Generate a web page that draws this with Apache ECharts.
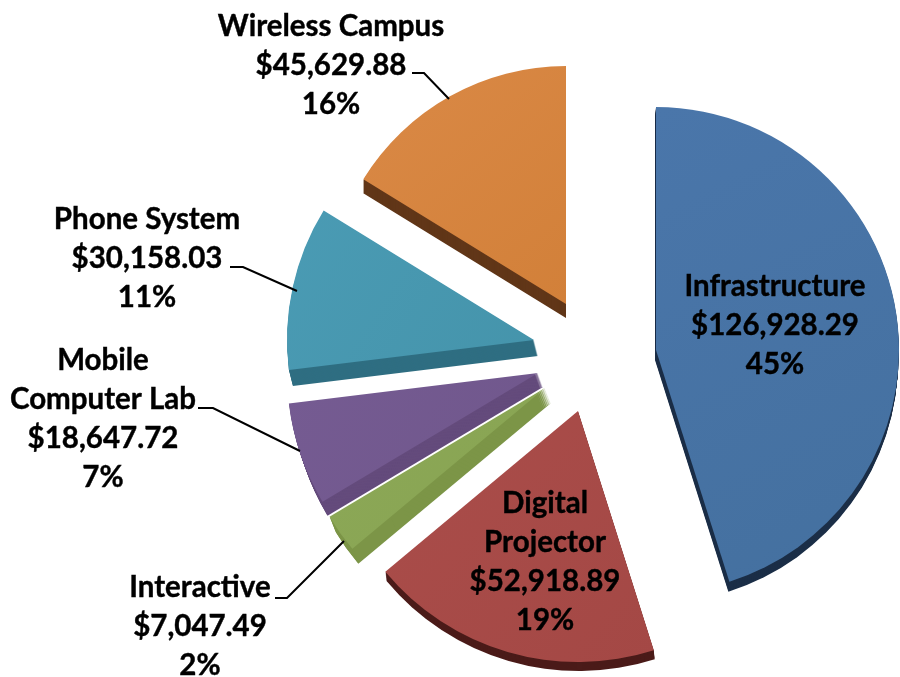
<!DOCTYPE html>
<html>
<head>
<meta charset="utf-8">
<title>Project budget</title>
<script src="https://cdn.jsdelivr.net/npm/echarts@6/dist/echarts.min.js"></script>
<style>
html, body { margin: 0; padding: 0; background: #fff; }
#chart { width: 900px; height: 677px; }
</style>
</head>
<body>
<div id="chart"></div>
<script>
// data
var categories = ['Infrastructure', 'Digital\nProjector', 'Interactive', 'Mobile\nComputer Lab', 'Phone System', 'Wireless Campus'];
var amounts = [126928.29, 52918.89, 7047.49, 18647.72, 30158.03, 45629.88];

// look of each exploded slice
var topColors = [['#4a76aa', '#44709f'], ['#aa4d4a', '#a44845'], ['#8ca857', '#88a452'], ['#755b92', '#70578c'], ['#4a9bb4', '#4594ab'], ['#da8946', '#d28039']];
var wallColors = ['#1b2e47', '#4b1b19', '#7c9547', '#644b7c', '#2f6e82', '#613618'];
var centers = [[656, 350], [578, 411], [545, 388], [538, 373], [534, 340], [566, 304]];
var radii = [243, 251, 251, 251, 247, 238];
var walls = [[-1, 10], [1, 9], [6, 15], [5, 14], [4, 16], [0, 14]];
var labelSpots = [[775, 325], [545, 562], [200, 626], [103, 419], [147, 258], [331, 65]];
var leaders = [
    [[412, 73], [424, 73], [449, 99]],
    [[230, 267], [243, 267], [297, 291]],
    [[198, 408], [213, 408], [300, 451]],
    [[275, 598], [287, 598], [344, 541]]
];

function money(v) {
    return '$' + v.toLocaleString('en-US', {minimumFractionDigits: 2, maximumFractionDigits: 2});
}

// every series holds the whole data set, only slice "idx" is painted
function sliceData(idx, color, withLabel) {
    return categories.map(function (name, i) {
        return {
            name: name,
            value: amounts[i],
            itemStyle: {color: i === idx ? color : 'transparent'},
            label: {show: withLabel && i === idx}
        };
    });
}

function sliceSeries(idx, cx, cy, color, withLabel) {
    return {
        type: 'pie',
        silent: true,
        animation: false,
        startAngle: 90,
        clockwise: true,
        percentPrecision: 0,
        avoidLabelOverlap: false,
        radius: [0, radii[idx]],
        center: [cx, cy],
        labelLine: {show: false},
        label: {
            fontFamily: 'Lato',
            fontWeight: 'bold',
            fontSize: 29.5,
            lineHeight: 39,
            color: '#000',
            textBorderColor: '#000',
            textBorderWidth: 0.4,
            align: 'center',
            formatter: function (p) {
                return p.name + '\n' + money(p.value) + '\n' + p.percent + '%';
            }
        },
        labelLayout: {
            x: labelSpots[idx][0],
            y: labelSpots[idx][1],
            align: 'center',
            verticalAlign: 'middle'
        },
        data: sliceData(idx, color, withLabel)
    };
}

var series = [];
categories.forEach(function (name, i) {
    var c = centers[i], w = walls[i];
    for (var d = w[1]; d >= 1; d--) {
        series.push(sliceSeries(i, c[0] + w[0] * d / w[1], c[1] + d, wallColors[i], false));
    }
    series.push(sliceSeries(i, c[0], c[1], {
        type: 'linear', x: 0, y: 0, x2: 1, y2: 1,
        colorStops: [{offset: 0, color: topColors[i][0]}, {offset: 1, color: topColors[i][1]}]
    }, true));
});

var chart = echarts.init(document.getElementById('chart'), null, {renderer: 'canvas'});
chart.setOption({
    backgroundColor: '#fff',
    animation: false,
    series: series,
    graphic: leaders.map(function (pts) {
        return {
            type: 'polyline',
            z: 10,
            shape: {points: pts},
            style: {stroke: '#000', lineWidth: 2, fill: null}
        };
    })
});
</script>
</body>
</html>
